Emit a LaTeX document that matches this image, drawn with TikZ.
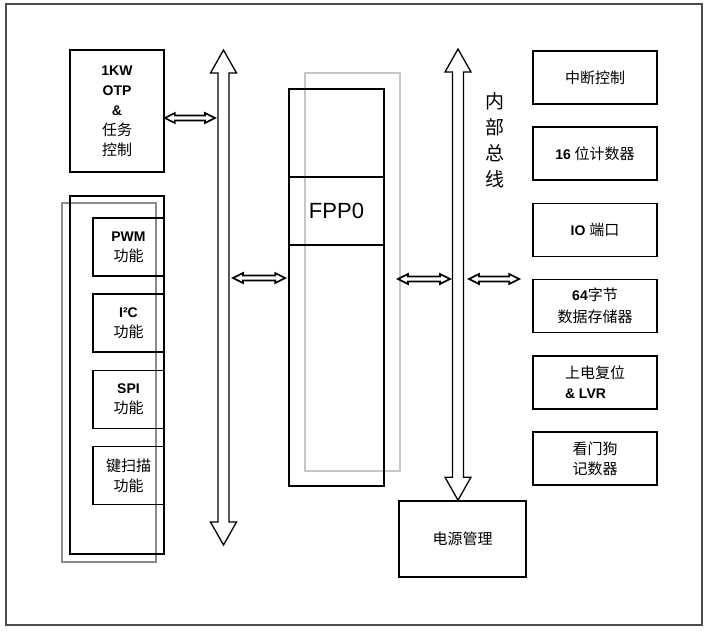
\documentclass[tikz, border = 0pt]{standalone}
\usepackage{fontspec}
\setmainfont{Liberation Sans}
\newfontfamily\cjk{Noto Sans CJK SC}
\usetikzlibrary{positioning}
\usetikzlibrary{calc}

\newcommand{\linkarrow}[2]{\draw [linkline] (#1) -- ($(#1) + (10, -5)$) -- ($(#1) + (10, -2.5)$) -- ($(#2) + (-10, -2.5)$) -- ($(#2) + (-10, -5)$) -- (#2) -- ($(#2) + (-10, 5)$) -- ($(#2) + (-10, 2.5)$) -- ($(#1) + (10, 2.5)$) -- ($(#1) + (10, 5)$) -- cycle;}
\newcommand{\busarrow}[2]{\draw [busline] (#1) -- ($(#1) + (13, 23)$) -- ($(#1) + (5.5, 23)$) -- ($(#2) + (5.5, -23)$) -- ($(#2) + (13, -23)$) -- (#2) -- ($(#2) + (-13, -23)$) -- ($(#2) + (-5.5, -23)$) -- ($(#1) + (-5.5, 23)$) -- ($(#1) + (-13, 23)$) -- cycle;}

\tikzset{
	box/.style = {draw = black, line width = 1.6pt, align = center, inner sep = 0pt, font = \fontsize{14}{20}\selectfont},
	unitbox/.style = {box, minimum width = 71, minimum height = 58},
	sidebox/.style = {box, line width = 1.5pt, minimum width = 124, minimum height = 53},
	linkline/.style = {black, line width = 1.6pt, line join = miter},
	busline/.style = {black, line width = 1.3pt, line join = miter},
	shadow/.style = {line width = 2pt}
}

\begin{document}
\begin{tikzpicture}[x = 1pt, y = -1pt]
							\useasboundingbox (0, 0) rectangle (705, 630);
							\draw [black!70, line width = 1.5pt] (6, 4) rectangle (702, 625);
							\node [box, minimum width = 94, minimum height = 122] (otp) at (117, 111) {\textbf{1KW}\\\textbf{OTP}\\\textbf{\&}\\{\cjk\fontsize{15}{20}\selectfont 任务}\\{\cjk\fontsize{15}{20}\selectfont 控制}};
							\draw [shadow, black!45] (62, 203) rectangle (156, 562);
							\node [box, minimum width = 94, minimum height = 358] (periph) at (117, 375) {};
							\node [unitbox] (pwm) at (128.5, 247) {\textbf{PWM}\\{\cjk\fontsize{15}{20}\selectfont 功能}};
							\node [unitbox] (iic) at (128.5, 323) {\textbf{I²C}\\{\cjk\fontsize{15}{20}\selectfont 功能}};
							\node [unitbox] (spi) at (128.5, 399.5) {\textbf{SPI}\\{\cjk\fontsize{15}{20}\selectfont 功能}};
							\node [unitbox] (key) at (128.5, 475.5) {{\cjk\fontsize{15}{20}\selectfont 键扫描}\\{\cjk\fontsize{15}{20}\selectfont 功能}};
							\draw [shadow, black!22] (305, 73) rectangle (400, 471);
							\node [box, minimum width = 95, minimum height = 397] (core) at (336.5, 287.5) {};
							\node [box, minimum width = 95, minimum height = 68, font = \fontsize{22}{24}\selectfont] (fpp) at (336.5, 211) {\raisebox{-3pt}{FPP0}};
							\coordinate (busLtop) at (223.5, 50);
							\coordinate (busLbot) at (223.5, 545);
							\busarrow{busLtop}{busLbot}
							\node [box, minimum width = 127, minimum height = 76] (pwr) at (462.5, 539) {\cjk\fontsize{15}{20}\selectfont 电源管理};
							\coordinate (busRtop) at (458, 49);
							\coordinate (busRbot) at (pwr.north -| busRtop);
							\busarrow{busRtop}{busRbot}
							\node [align = center, font = \cjk\fontsize{19}{26}\selectfont] (buslabel) at (495, 140) {内\\部\\总\\线};
							\node [sidebox] (irq) at (595, 77.5) {\cjk\fontsize{15}{20}\selectfont 中断控制};
							\node [sidebox] (timer) at (595, 153.5) {\textbf{16} {\cjk\fontsize{15}{20}\selectfont 位计数器}};
							\node [sidebox] (port) at (595, 230) {\textbf{IO} {\cjk\fontsize{15}{20}\selectfont 端口}};
							\node [sidebox] (ram) at (595, 306) {\textbf{64}{\cjk\fontsize{15}{20}\selectfont 字节}\\[2pt]{\cjk\fontsize{15}{20}\selectfont 数据存储器}};
							\node [sidebox, align = left] (reset) at (595, 382.5) {{\cjk\fontsize{15}{20}\selectfont 上电复位}\\\textbf{\& LVR}};
							\node [sidebox] (wdt) at (595, 458.5) {{\cjk\fontsize{15}{20}\selectfont 看门狗}\\{\cjk\fontsize{15}{20}\selectfont 记数器}};
							\coordinate (otpR) at ($(otp.east) + (0, 7)$);
							\coordinate (busLa) at ($(busLtop |- otpR) + (-8.5, 0)$);
							\linkarrow{otpR}{busLa}
							\coordinate (busLb) at (233, 278);
							\coordinate (coreL) at ($(core.west |- busLb) + (-3, 0)$);
							\linkarrow{busLb}{coreL}
							\coordinate (coreR) at (398, 279);
							\coordinate (busRa) at ($(busRtop |- coreR) + (-8, 0)$);
							\linkarrow{coreR}{busRa}
							\coordinate (busRb) at ($(busRtop |- coreR) + (11, 0)$);
							\coordinate (sideL) at ($(ram.west |- coreR) + (-13, 0)$);
							\linkarrow{busRb}{sideL}
						\end{tikzpicture}
\end{document}
